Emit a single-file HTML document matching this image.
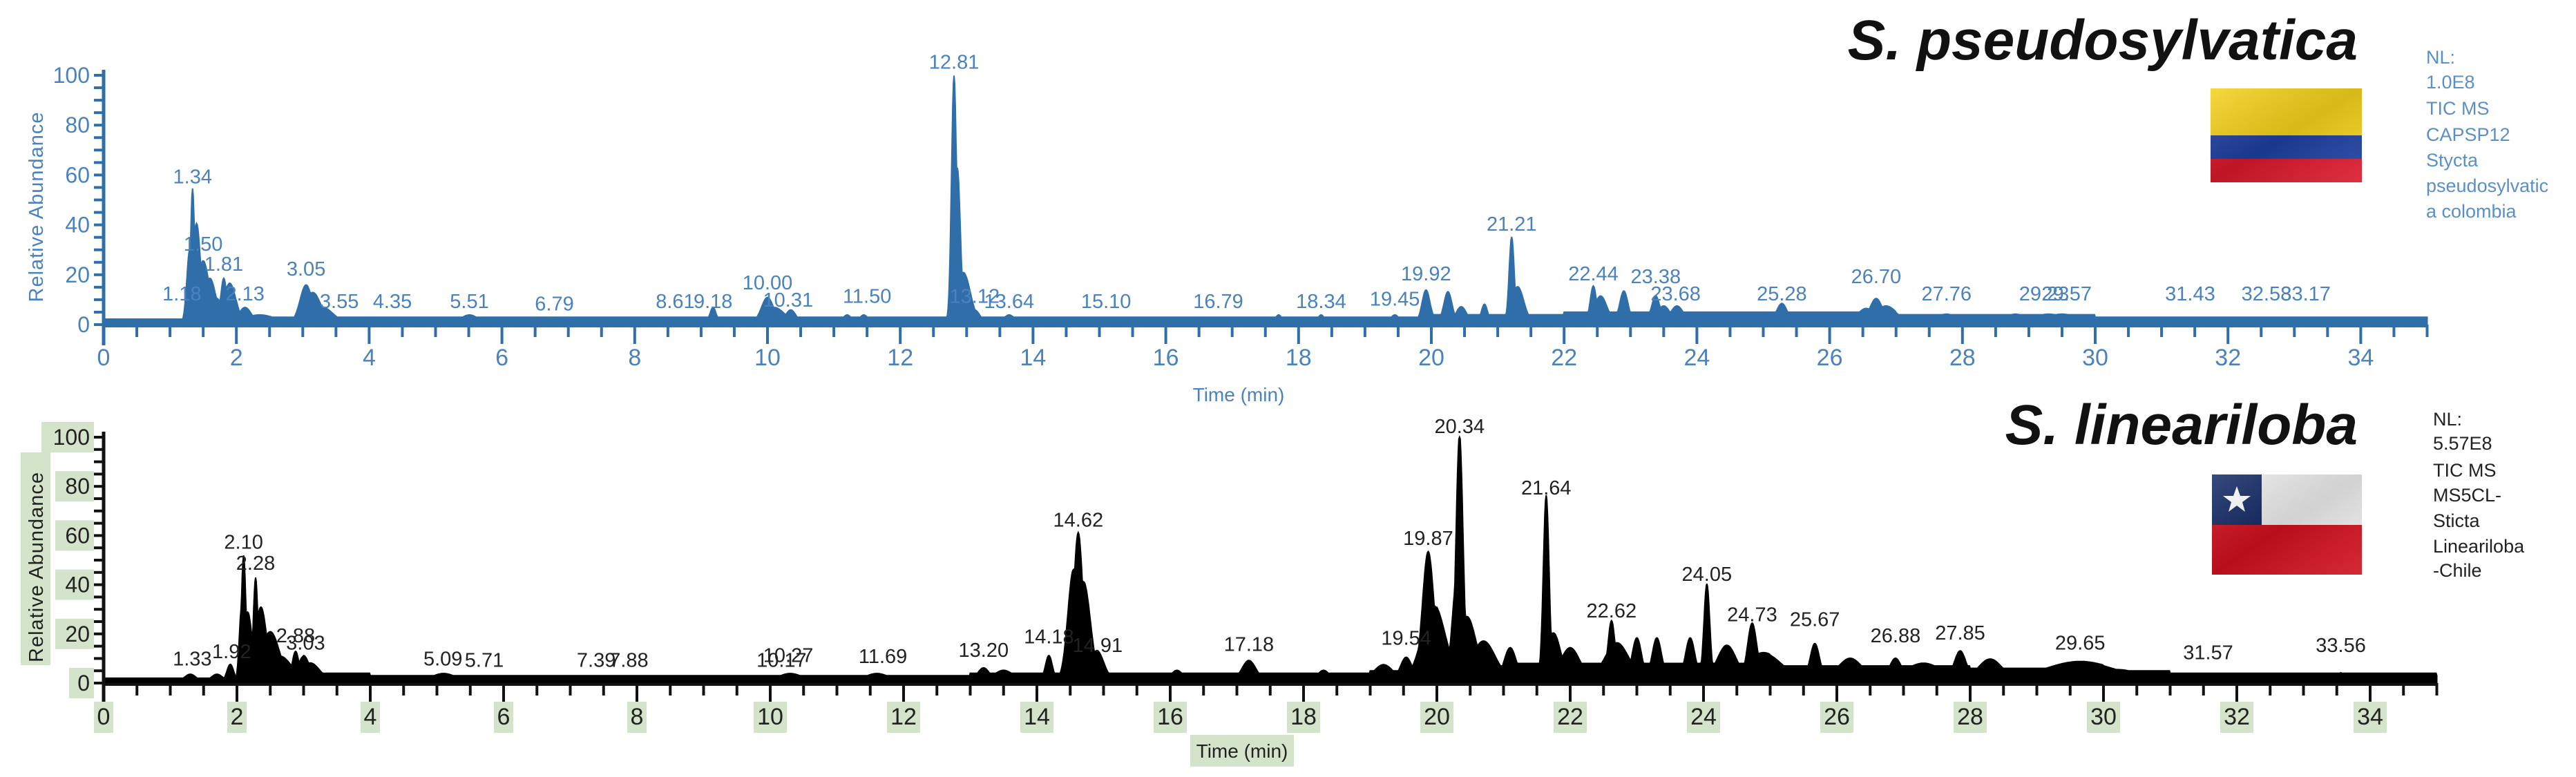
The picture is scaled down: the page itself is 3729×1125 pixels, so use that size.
<!DOCTYPE html>
<html><head><meta charset="utf-8">
<style>
html,body{margin:0;padding:0;background:#fff;}
body{width:3729px;height:1125px;overflow:hidden;position:relative;font-family:"Liberation Sans",sans-serif;}
svg{position:absolute;left:0;top:0;}
</style></head>
<body>
<svg id="chart" width="3729" height="1125" viewBox="0 0 3729 1125">
  <defs>
    <linearGradient id="shade" x1="0" y1="0" x2="1" y2="1">
      <stop offset="0" stop-color="#fff" stop-opacity="0.15"/>
      <stop offset="0.5" stop-color="#000" stop-opacity="0.12"/>
      <stop offset="1" stop-color="#fff" stop-opacity="0.1"/>
    </linearGradient>
  </defs>
  <g id="top-panel"></g>
  <g id="bot-panel"></g>

  <text x="3413" y="86" text-anchor="end" font-family="'Liberation Sans',sans-serif" font-weight="bold" font-style="italic" font-size="82" fill="#111">S. pseudosylvatica</text>
  <g>
    <rect x="3200" y="128" width="219" height="68" fill="#f4d21c"/>
    <rect x="3200" y="196" width="219" height="34" fill="#1d3fa0"/>
    <rect x="3200" y="230" width="219" height="34" fill="#d9182a"/>
    <rect x="3200" y="128" width="219" height="136" fill="url(#shade)"/>
  </g>
  <g font-family="'Liberation Sans',sans-serif" font-size="27" fill="#5b8fc8">
    <text x="3512" y="92">NL:</text>
    <text x="3512" y="128">1.0E8</text>
    <text x="3512" y="166">TIC MS</text>
    <text x="3512" y="204">CAPSP12</text>
    <text x="3512" y="241">Stycta</text>
    <text x="3512" y="278">pseudosylvatic</text>
    <text x="3512" y="315">a colombia</text>
  </g>

  <text x="3413" y="643" text-anchor="end" font-family="'Liberation Sans',sans-serif" font-weight="bold" font-style="italic" font-size="82" fill="#111">S. lineariloba</text>
  <g>
    <rect x="3202" y="687" width="217" height="73" fill="#eeeeee"/>
    <rect x="3202" y="687" width="72" height="73" fill="#142a66"/>
    <polygon points="3238,704 3243,718 3258,718 3246,727 3250,741 3238,732 3226,741 3230,727 3218,718 3233,718" fill="#fff"/>
    <rect x="3202" y="760" width="217" height="72" fill="#d0101e"/>
    <rect x="3202" y="687" width="217" height="145" fill="url(#shade)"/>
  </g>
  <g font-family="'Liberation Sans',sans-serif" font-size="27" fill="#222">
    <text x="3522" y="616">NL:</text>
    <text x="3522" y="651">5.57E8</text>
    <text x="3522" y="690">TIC MS</text>
    <text x="3522" y="726">MS5CL-</text>
    <text x="3522" y="763">Sticta</text>
    <text x="3522" y="800">Lineariloba</text>
    <text x="3522" y="835">-Chile</text>
  </g>
</svg>
<script>
// ---------- TOP CHROMATOGRAM DATA ----------
var topPeakTimes   = [1.30,1.34,1.40,1.50,1.60,1.70,1.81,1.90,2.13,2.35,3.05,3.15,3.30,5.30,5.51,8.40,9.18,10.00,10.10,10.35,11.20,11.45,12.81,12.86,12.95,13.12,13.64,17.70,18.34,19.45,19.92,20.25,20.45,20.80,21.21,21.30,22.44,22.55,22.90,23.38,23.50,23.70,24.30,25.28,26.55,26.70,26.85,27.76,28.80,29.30,29.50];
var topPeakHeights = [30,54,40,25,18,10,18,16,6,3,15,12,6,2,3,2,6,10,6,5,3,3,99,62,20,5,3,3,3,3,13,12,6,7,34,14,14,10,12,10,6,6,3,7,5,9,6,3,3,3,3];
var topPeakWidths  = [0.03,0.02,0.04,0.06,0.06,0.06,0.03,0.06,0.06,0.15,0.06,0.08,0.1,0.03,0.08,0.1,0.03,0.06,0.1,0.05,0.04,0.04,0.025,0.03,0.07,0.05,0.05,0.03,0.03,0.04,0.04,0.04,0.05,0.03,0.025,0.06,0.03,0.06,0.04,0.04,0.06,0.06,0.2,0.05,0.08,0.06,0.1,0.1,0.1,0.15,0.15];
var topBaseline    = [2,2,3,3,3,3,3,3,3,3,3,3,3,3,3,3,3,3,3,3,4,4,5,5,5,5,5,4,4,4,3,3,3,3,3,3];
var topLabels      = ["1.18","1.34","1.50","1.81","2.13","3.05","3.55","4.35","5.51","6.79","8.61","9.18","10.00","10.31","11.50","12.81","13.12","13.64","15.10","16.79","18.34","19.45","19.92","21.21","22.44","23.38","23.68","25.28","26.70","27.76","29.23","29.57","31.43","32.58","33.17"];
var topLabelLevels = [13,60,33,25,13,23,10,10,10,9,10,10,17.5,10.5,12,106,12,10,10,10,10,11,21,41,21,20,13,13,20,13,13,13,13,13,13];
var topXTicks      = [0,2,4,6,8,10,12,14,16,18,20,22,24,26,28,30,32,34];
var topYTicks      = [0,20,40,60,80,100];

// ---------- BOTTOM CHROMATOGRAM DATA ----------
var botPeakTimes   = [1.30,1.70,1.90,2.07,2.10,2.16,2.28,2.36,2.50,2.65,2.88,3.00,3.10,5.10,10.30,11.60,13.20,13.50,14.18,14.55,14.62,14.70,14.90,16.10,17.18,18.30,19.20,19.54,19.87,19.95,20.30,20.34,20.45,20.70,21.10,21.64,21.75,22.00,22.62,22.70,23.00,23.30,23.80,24.05,24.35,24.73,24.90,25.67,26.20,26.88,27.30,27.85,28.30,29.65,30.20,33.56];
var botPeakHeights = [3,3,7,30,51,28,42,30,20,10,12,10,7,3,3,3,5,4,10,45,60,40,12,4,8,4,6,9,52,30,40,99,25,15,12,74,18,12,23,14,16,16,16,38,13,22,10,14,8,8,6,11,8,7,4,3];
var botPeakWidths  = [0.05,0.05,0.03,0.02,0.02,0.04,0.02,0.05,0.08,0.1,0.03,0.05,0.08,0.1,0.1,0.1,0.05,0.08,0.03,0.05,0.04,0.06,0.06,0.05,0.06,0.05,0.08,0.05,0.05,0.1,0.04,0.03,0.08,0.1,0.05,0.025,0.06,0.08,0.03,0.1,0.04,0.04,0.04,0.025,0.08,0.04,0.15,0.04,0.1,0.05,0.15,0.05,0.1,0.3,0.2,0.02];
var botBaseline    = [2,2,3,4,3,3,3,3,3,3,3,3,3,4,4,4,4,4,4,5,7,8,8,8,8,7,7,7,6,6,5,4,4,4,4,3];
var botLabels      = ["1.33","1.92","2.10","2.28","2.88","3.03","5.09","5.71","7.39","7.88","10.17","10.27","11.69","13.20","14.18","14.62","14.91","17.18","19.54","19.87","20.34","21.64","22.62","24.05","24.73","25.67","26.88","27.85","29.65","31.57","33.56"];
var botLabelLevels = [10.5,13.5,58,49.5,20,17,10.5,10,10,10,10,12,11.5,14,19.5,67,16,16.5,19,59.5,105,80,30,45,28.5,26.5,20,21,17,13,16];
var botXTicks      = [0,2,4,6,8,10,12,14,16,18,20,22,24,26,28,30,32,34];
var botYTicks      = [0,20,40,60,80,100];

var NS = "http://www.w3.org/2000/svg";
function mk(tag, attrs, parent){ var e=document.createElementNS(NS,tag); for(var k in attrs) e.setAttribute(k,attrs[k]); parent.appendChild(e); return e; }

function drawPanel(g, cfg, times, heights, widths, base, labels, levels, xticks, yticks){
  var x0=cfg.x0, pxMin=cfg.pxMin, y0=cfg.y0, y100=cfg.y100;
  function xs(t){ return x0 + t*pxMin; }
  function ys(v){ return y0 - (v/100)*(y0-y100); }
  var xEnd = xs(35);
  var d = "M"+xs(0)+","+y0;
  for(var i=0;i<=3500;i++){
    var t=i/100;
    var bi=Math.min(base.length-1,Math.floor(t));
    var pk=0;
    for(var p=0;p<times.length;p++){
      var w=widths[p]*cfg.wScale;
      var dt=(t-times[p])/w;
      if(Math.abs(dt)<5){ var h=heights[p]*Math.exp(-0.5*dt*dt); if(h>pk) pk=h; }
    }
    var v=Math.max(base[bi], pk+base[bi]*0.3);
    if(v>100) v=100;
    d+=" L"+xs(t).toFixed(1)+","+ys(v).toFixed(1);
  }
  d+=" L"+xEnd+","+y0+" Z";
  var tr = mk("path",{d:d,fill:cfg.fill,stroke:cfg.fill,"stroke-width":2},g);
  
  
  var band = mk("rect",{x:xs(0),y:y0-cfg.band,width:xEnd-xs(0),height:cfg.band+4,fill:cfg.fill},g);
  
  
  var ya = mk("line",{x1:xs(0),y1:y100-8,x2:xs(0),y2:y0+30,stroke:cfg.axis,"stroke-width":5},g);
  
  
  var xa = mk("line",{x1:xs(0),y1:y0+2,x2:xEnd,y2:y0+2,stroke:cfg.axis,"stroke-width":4},g);
  
  
  for(var m=0;m<=70;m++){
    var tx=xs(m/2);
    var big=(m%4===0);
    mk("line",{x1:tx,y1:y0,x2:tx,y2:y0+(big?28:18),stroke:cfg.axis,"stroke-width":4},g);
  }
  xticks.forEach(function(t){
    var tx=xs(t);
    if(cfg.boxes){
      var w=String(t).length*20+8;
      var bx=mk("rect",{x:tx-w/2,y:cfg.xlabY-33,width:w,height:45,fill:"#d3e4cb"},g);
      
      
    }
    var tl=mk("text",{x:tx,y:cfg.xlabY,"text-anchor":"middle","font-size":34,fill:cfg.text},g);
    tl.textContent=t;
    
    
  });
  for(var yv=0;yv<=100;yv+=5){
    mk("line",{x1:xs(0)-14,y1:ys(yv),x2:xs(0),y2:ys(yv),stroke:cfg.axis,"stroke-width":4},g);
  }
  yticks.forEach(function(v){
    if(cfg.boxes){
      var w=String(v).length*20+10;
      var bx=mk("rect",{x:130-w,y:ys(v)-22,width:w+6,height:44,fill:"#d3e4cb"},g);
      
      
    }
    var tl=mk("text",{x:130,y:ys(v)+11,"text-anchor":"end","font-size":32,fill:cfg.text},g);
    tl.textContent=v;
    
    
  });
  var cy=(y0+y100)/2+10;
  if(cfg.boxes){
    var bx=mk("rect",{x:30,y:655,width:43,height:308,fill:"#d3e4cb"},g);
    
    
  }
  var yt=mk("text",{x:62,y:cy,"text-anchor":"middle","font-size":29,fill:cfg.text,transform:"rotate(-90 62 "+cy+")","letter-spacing":"1"},g);
  yt.textContent="Relative Abundance";
  
  
  if(cfg.boxes){
    var bx2=mk("rect",{x:1723,y:1064,width:150,height:46,fill:"#d3e4cb"},g);
    
    
  }
  var xt=mk("text",{x:cfg.xtitleX,y:cfg.xtitleY,"text-anchor":"middle","font-size":28,fill:cfg.text},g);
  xt.textContent="Time (min)";
  
  
  labels.forEach(function(lb,i){
    var t=parseFloat(lb);
    var pl=mk("text",{x:xs(t),y:ys(levels[i])+12,"text-anchor":"middle","font-size":29,fill:cfg.label},g);
    pl.textContent=lb;
    
    
  });
}

drawPanel(document.getElementById("top-panel"),
  {x0:150,pxMin:96.1,y0:470,y100:109,fill:"#2f6ea9",axis:"#2f6ea9",text:"#4a82bd",label:"#4a82bd",band:9,boxes:false,wScale:1.5,xlabY:529,xtitleX:1793,xtitleY:581},
  topPeakTimes,topPeakHeights,topPeakWidths,topBaseline,topLabels,topLabelLevels,topXTicks,topYTicks);
drawPanel(document.getElementById("bot-panel"),
  {x0:150,pxMin:96.5,y0:989,y100:633,fill:"#000",axis:"#111",text:"#222",label:"#222",band:6,boxes:true,wScale:1.7,xlabY:1049,xtitleX:1798,xtitleY:1097},
  botPeakTimes,botPeakHeights,botPeakWidths,botBaseline,botLabels,botLabelLevels,botXTicks,botYTicks);
</script>
</body></html>
